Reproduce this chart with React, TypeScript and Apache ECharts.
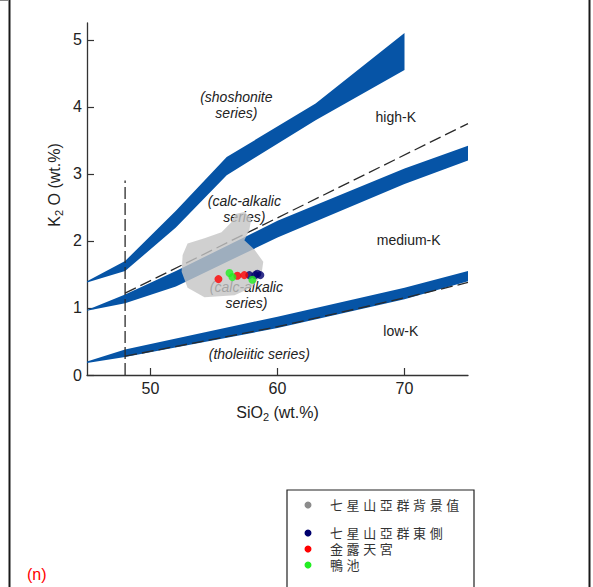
import React, { useEffect, useRef } from "react";
import * as echarts from "echarts";

// ---- axes ----
const xTicks = [50, 60, 70];
const yTicks = [0, 1, 2, 3, 4, 5];

// ---- field boundary bands (SiO2, K2O) ----
const shoshUpper = [[45, 1.4], [48, 1.7], [52, 2.45], [56, 3.25], [63, 4.05], [70, 5.1]];
const shoshLower = [[45, 1.38], [48, 1.55], [52, 2.2], [56, 2.98], [63, 3.8], [70, 4.55]];

const calcUpper = [[45, 0.97], [48, 1.2], [52, 1.55], [60, 2.3], [70, 3.08], [75, 3.42]];
const calcLower = [[45, 0.96], [48, 1.07], [52, 1.32], [60, 2.05], [70, 2.85], [75, 3.2]];

const lowUpper = [[45, 0.2], [48, 0.38], [60, 0.87], [70, 1.3], [75, 1.55]];
const lowLower = [[45, 0.18], [48, 0.27], [60, 0.7], [70, 1.13], [75, 1.4]];

// ---- dashed lines ----
const dashHighK = [[48, 1.22], [75, 3.75]];
const dashLowK = [[48, 0.28], [60, 0.72], [70, 1.15], [75, 1.38]];
const dashVertical = [[48, 0], [48, 2.9]];

// ---- background field (七星山亞群背景值) ----
const bgField = [
  [52.53, 1.79], [52.92, 1.96], [54.25, 2.04], [55.59, 2.13], [56.37, 2.28],
  [56.69, 2.4], [57.39, 2.43], [57.94, 2.34], [57.78, 2.16], [57.39, 2.01],
  [58.18, 1.87], [58.88, 1.69], [58.73, 1.49], [57.94, 1.3], [56.61, 1.19],
  [54.25, 1.16], [52.92, 1.3], [52.45, 1.54],
];

// ---- samples ----
const eastSide = [[57.78, 1.49], [58.25, 1.49], [58.65, 1.49], [58.41, 1.51]];
const jinluTemple = [[55.35, 1.43], [56.84, 1.48], [57.39, 1.49]];
const yachi = [[56.22, 1.52], [56.45, 1.46], [58.02, 1.42]];

// ---- field labels ----
const labelPos = [
  [56.76, 4.03], [69.31, 3.85], [57.39, 2.48], [70.33, 2.01],
  [57.55, 1.19], [69.71, 0.66], [58.57, 0.31],
];
const labelTexts = [
  "(shoshonite\nseries)", "high-K", "(calc-alkalic\nseries)", "medium-K",
  "(calc-alkalic\nseries)", "low-K", "(tholeiitic series)",
];
const labelItalic = [true, false, true, false, true, false, true];

const legendNames = ["七 星 山 亞 群 背 景 值", "七 星 山 亞 群 東 側", "金 露 天 宮", "鴨 池"];
const legendColors = ["#8c8c8c", "#00006e", "#ff0000", "#22ee22"];

const FONT = '"Liberation Sans", Arial, sans-serif';
const BLUE = "#0654a6";

function band(name: string, upper: number[][], lower: number[][]) {
  const pts = upper.concat(lower.slice().reverse());
  return {
    type: "custom",
    name,
    z: 2,
    silent: true,
    data: pts,
    encode: { x: 0, y: 1 },
    renderItem: (params: any, api: any) => {
      if (params.dataIndex !== 0) return null;
      return {
        type: "polygon",
        shape: { points: pts.map((p) => api.coord(p)) },
        style: { fill: BLUE },
      };
    },
  };
}

function dashed(data: number[][], pattern: number[]) {
  return {
    type: "line",
    data,
    z: 2,
    silent: true,
    symbol: "none",
    lineStyle: { color: "#2a2a2a", width: 1.3, type: pattern },
  };
}

export default function App() {
  const ref = useRef<HTMLDivElement>(null);
  useEffect(() => {
    if (!ref.current) return;
    const chart = echarts.init(ref.current, undefined, { renderer: "svg" });
    const legendY = [505, 533, 549, 565];
    const graphic: any[] = [
      { type: "line", shape: { x1: 9.5, y1: 0, x2: 9.5, y2: 587 }, style: { stroke: "#1a1a1a", lineWidth: 2 } },
      { type: "line", shape: { x1: 589.5, y1: 0, x2: 589.5, y2: 587 }, style: { stroke: "#1a1a1a", lineWidth: 2 } },
      { type: "line", shape: { x1: 0, y1: 0.5, x2: 9, y2: 0.5 }, style: { stroke: "#888", lineWidth: 1 } },
      { type: "rect", shape: { x: 287, y: 490, width: 187, height: 110 }, style: { fill: "none", stroke: "#222", lineWidth: 1.2 } },
      {
        type: "text", x: 27, y: 574,
        style: { text: "(n)", fill: "#ff0000", font: '16px "Liberation Sans", Arial, sans-serif', verticalAlign: "middle" },
      },
      {
        type: "text", x: 54, y: 185, rotation: Math.PI / 2,
        style: {
          text: "{k|K}{s|2}{k| O (wt.%)}",
          align: "center", verticalAlign: "middle",
          rich: {
            k: { fontSize: 16, fontFamily: FONT, fill: "#222", lineHeight: 20, verticalAlign: "middle" },
            s: { fontSize: 11, fontFamily: FONT, fill: "#222", lineHeight: 20, verticalAlign: "bottom" },
          },
        },
      },
    ];
    legendNames.forEach((n, i) => {
      graphic.push({ type: "circle", shape: { cx: 308, cy: legendY[i], r: 3.5 }, style: { fill: legendColors[i] } });
      graphic.push({
        type: "text", x: 330, y: legendY[i],
        style: {
          text: n, fill: "#333",
          font: '13px "Liberation Sans", "Noto Sans CJK TC", sans-serif',
          lineHeight: 14, verticalAlign: "middle",
        },
      });
    });

    chart.setOption({
      animation: false,
      grid: { left: 87, top: 23, width: 381, height: 352 },
      xAxis: {
        type: "value", min: 45, max: 75,
        name: "{k|SiO}{s|2}{k| (wt.%)}", nameLocation: "middle", nameGap: 27,
        nameTextStyle: {
          rich: {
            k: { fontSize: 16, fontFamily: FONT, color: "#222", lineHeight: 20, verticalAlign: "middle" },
            s: { fontSize: 11, fontFamily: FONT, color: "#222", lineHeight: 20, verticalAlign: "bottom" },
          },
        },
        axisLine: { lineStyle: { color: "#333", width: 1.3 } },
        axisTick: { inside: true, length: 7, customValues: xTicks, lineStyle: { color: "#333", width: 1.2 } },
        axisLabel: { customValues: xTicks, margin: 5, fontSize: 16, fontFamily: FONT, color: "#222" },
        splitLine: { show: false },
      },
      yAxis: {
        type: "value", min: 0, max: 5.25,
        axisLine: { show: true, lineStyle: { color: "#333", width: 1.3 } },
        axisTick: { show: true, inside: true, length: 7, customValues: yTicks, lineStyle: { color: "#333", width: 1.2 } },
        axisLabel: { customValues: yTicks, margin: 5, fontSize: 16, fontFamily: FONT, color: "#222" },
        splitLine: { show: false },
      },
      graphic,
      series: [
        {
          type: "custom", z: 1, silent: true, data: labelPos, encode: { x: 0, y: 1 },
          renderItem: (params: any, api: any) => {
            const i = params.dataIndex;
            const c = api.coord(labelPos[i]);
            return {
              type: "text", x: c[0], y: c[1],
              style: {
                text: labelTexts[i], fill: "#222",
                font: (labelItalic[i] ? "italic " : "") + "14px " + FONT,
                align: "center", verticalAlign: "middle", lineHeight: 16,
              },
            };
          },
        },
        band("shoshonite", shoshUpper, shoshLower),
        band("calc-alkalic", calcUpper, calcLower),
        band("low-K", lowUpper, lowLower),
        dashed(dashHighK, [12, 5]),
        dashed(dashLowK, [12, 5]),
        dashed(dashVertical, [12, 4]),
        {
          type: "custom", z: 3, silent: true, data: bgField, encode: { x: 0, y: 1 },
          name: legendNames[0],
          renderItem: (params: any, api: any) => {
            if (params.dataIndex !== 0) return null;
            return {
              type: "polygon",
              shape: { points: bgField.map((p) => api.coord(p)) },
              style: { fill: "#c4c4c4", opacity: 0.8 },
            };
          },
        },
        { type: "scatter", name: legendNames[1], z: 4, data: eastSide, symbolSize: 8, itemStyle: { color: legendColors[1] } },
        { type: "scatter", name: legendNames[2], z: 4, data: jinluTemple, symbolSize: 8, itemStyle: { color: legendColors[2] } },
        { type: "scatter", name: legendNames[3], z: 4, data: yachi, symbolSize: 8, itemStyle: { color: legendColors[3] } },
      ],
    });
    return () => chart.dispose();
  }, []);
  return (
    <div
      ref={ref}
      style={{ position: "absolute", left: 0, top: 0, width: 593, height: 587, background: "#fff" }}
    />
  );
}
